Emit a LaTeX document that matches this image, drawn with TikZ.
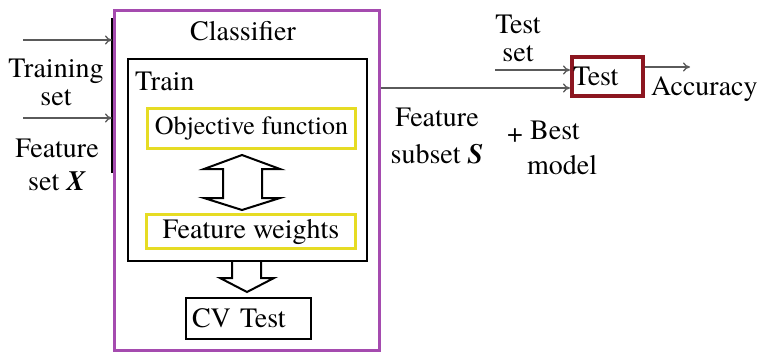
\documentclass[tikz,border=0pt]{standalone}
\usepackage{fontspec}
\setmainfont{texgyretermes}[Extension=.otf, UprightFont=*-regular, BoldFont=*-bold,
  ItalicFont=*-italic, BoldItalicFont=*-bolditalic]
\usetikzlibrary{arrows.meta,positioning,calc}
\definecolor{clsviolet}{RGB}{165,75,175}
\definecolor{boxyellow}{RGB}{230,220,35}
\definecolor{testred}{RGB}{140,22,32}
\definecolor{flowgray}{RGB}{90,90,90}

\begin{document}
\begin{tikzpicture}[
  x=1pt, y=-1pt,
  font=\fontsize{28}{29}\selectfont,
  >={To[length=7pt,width=9pt]},
  lbl/.style={inner sep=0pt, align=center},
  outerbox/.style={draw=clsviolet, line width=3pt, inner sep=0pt},
  plainbox/.style={draw=black, line width=2pt, inner sep=0pt},
  ybox/.style={draw=boxyellow, line width=3pt, inner sep=0pt},
  redbox/.style={draw=testred, line width=4pt, inner sep=0pt},
  flow/.style={->, draw=flowgray, line width=1.3pt},
  blockarrow/.style={draw=black, line width=2pt, line join=miter, fill=white}
]
\useasboundingbox (0,0) rectangle (762,357);

% Classifier frame and its inner boxes
\node[outerbox, minimum width=265pt, minimum height=340pt] (classifier) at (247,180.5) {};
\node[lbl] (classtitle) at (243,31) {Classifier};

\node[plainbox, minimum width=239pt, minimum height=202pt] (trainbox) at (247.5,160) {};
\node[lbl, anchor=west] (traintitle) at (135,81) {Train};

\node[ybox, minimum width=208pt, minimum height=40pt,
      font=\fontsize{26}{28}\selectfont] (objfun) at (251.5,128.5) {Objective function\hspace{9pt}};
\node[ybox, minimum width=209pt, minimum height=34pt] (weights) at (251,231.5) {Feature weights};

\node[plainbox, minimum width=125pt, minimum height=41pt,
      inner xsep=6pt, text width=113pt, align=left] (cvtest) at (248.5,318.5) {CV Test};

% Block arrows
\draw[blockarrow] ([xshift=-9.5pt,yshift=-5pt]objfun.south)
  -- ++(38,14) -- ++(-18,0) -- ++(0,29) -- ++(18,0) -- ++(-38,12)
  -- ++(-38,-12) -- ++(19,0) -- ++(0,-29) -- ++(-19,0) -- cycle;
\draw[blockarrow, fill=none] ([xshift=-15.5pt]trainbox.south)
  -- ++(0,16) -- ++(-12,0) -- ++(27,14) -- ++(27,-14) -- ++(-13,0) -- ++(0,-16);

% Inputs
\coordinate (bartop) at (112,18);
\coordinate (barbot) at (112,173);
\draw[line width=1.5pt] (bartop) -- (barbot);
\coordinate (trainfrom) at (23,40);
\coordinate (featfrom) at (23,118);
\draw[flow] (trainfrom) -- (trainfrom -| bartop);
\draw[flow] (featfrom) -- (featfrom -| bartop);
\node[lbl, font=\fontsize{28}{28}\selectfont] (trainset) at (56,82) {Training\\set};
\node[lbl, font=\fontsize{28}{33}\selectfont] (featset) at (57,165) {Feature\\set \textbf{\textit{X}}};

% Test stage
\node[redbox, minimum width=71pt, minimum height=39pt,
      inner xsep=1pt, text width=69pt, align=left] (testbox) at (607.5,76.5) {Test};
\coordinate (subsetin) at ([yshift=-11.5pt]testbox.west);
\coordinate (testsetin) at ([yshift=6.5pt]testbox.west);
\coordinate (testsetfrom) at (495,70);
\coordinate (accfrom) at ([yshift=9.5pt]testbox.east);
\coordinate (accto) at (690,67);
\draw[flow] (classifier.east |- subsetin) -- (subsetin);
\draw[flow] (testsetfrom) -- (testsetin);
\draw[flow] (accfrom) -- (accto);

\node[lbl, font=\fontsize{28}{28}\selectfont] (testset) at (518,38) {Test\\set};
\node[lbl, anchor=west] (accuracy) at (651,89) {Accuracy};
\node[lbl, font=\fontsize{28}{37}\selectfont] (subset) at (437,136) {Feature\\subset \textbf{\textit{S}}};
\node[lbl] (plus) at (515,136) {+};
\node[lbl, anchor=west, align=left, font=\fontsize{28}{35}\selectfont] (bestmodel) at (527,148) {\hspace{3pt}Best\\model};
\end{tikzpicture}
\end{document}
